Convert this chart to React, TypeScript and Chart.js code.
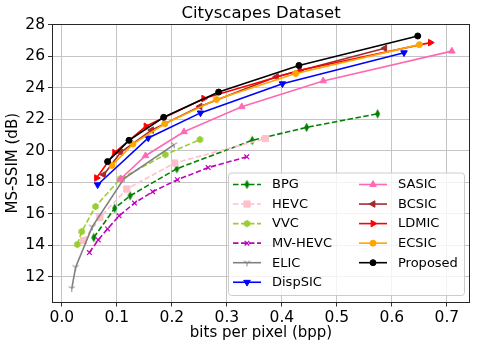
import React, { useEffect, useRef } from 'react';
import { Chart, registerables } from 'chart.js';
import { drawPoint } from 'chart.js/helpers';

Chart.register(...registerables);

const xTickValues = [0, 0.1, 0.2, 0.3, 0.4, 0.5, 0.6, 0.7];
const yTickValues = [12, 14, 16, 18, 20, 22, 24, 26, 28];

const bpgX = [0.058, 0.096, 0.124, 0.209, 0.346, 0.445, 0.574];
const bpgY = [14.5, 16.36, 17.15, 18.87, 20.67, 21.49, 22.35];
const hevcX = [0.039, 0.069, 0.118, 0.205, 0.37];
const hevcY = [14.31, 15.77, 17.58, 19.23, 20.78];
const vvcX = [0.028, 0.036, 0.061, 0.106, 0.188, 0.251];
const vvcY = [14.06, 14.88, 16.47, 18.22, 19.76, 20.72];
const mvhevcX = [0.05, 0.066, 0.083, 0.104, 0.132, 0.165, 0.21, 0.266, 0.336];
const mvhevcY = [13.55, 14.35, 15.05, 15.88, 16.69, 17.41, 18.17, 18.94, 19.62];
const elicX = [0.018, 0.025, 0.055, 0.113, 0.204];
const elicY = [11.28, 12.62, 15.18, 18.24, 20.4];
const dispsicX = [0.065, 0.157, 0.252, 0.401, 0.622];
const dispsicY = [17.85, 20.82, 22.41, 24.26, 26.23];
const sasicX = [0.107, 0.152, 0.222, 0.327, 0.475, 0.709];
const sasicY = [18.23, 19.69, 21.21, 22.8, 24.44, 26.33];
const bcsicX = [0.076, 0.107, 0.163, 0.251, 0.39, 0.587];
const bcsicY = [18.49, 19.91, 21.32, 22.82, 24.7, 26.51];
const ldmicX = [0.063, 0.096, 0.153, 0.258, 0.433, 0.67];
const ldmicY = [18.28, 19.89, 21.56, 23.32, 25.12, 26.87];
const ecsicX = [0.091, 0.129, 0.187, 0.281, 0.425, 0.65];
const ecsicY = [19.08, 20.43, 21.72, 23.26, 24.91, 26.74];
const proposedX = [0.083, 0.122, 0.185, 0.285, 0.431, 0.647];
const proposedY = [19.32, 20.67, 22.13, 23.73, 25.42, 27.29];

const FONT = "'DejaVu Sans', sans-serif";

function makeMarker(w: number, h: number, draw: (ctx: CanvasRenderingContext2D) => void) {
  const c = document.createElement('canvas');
  c.width = w;
  c.height = h;
  const ctx = c.getContext('2d')!;
  draw(ctx);
  return c;
}

function pts(xs: number[], ys: number[]) {
  return xs.map((x, i) => ({ x, y: ys[i] }));
}

export default function App() {
  const ref = useRef<HTMLCanvasElement>(null);

  useEffect(() => {
    const thinDiamond = makeMarker(7, 11, (ctx) => {
      ctx.fillStyle = '#008000';
      ctx.beginPath();
      ctx.moveTo(3.5, 0.8);
      ctx.lineTo(6.0, 5.5);
      ctx.lineTo(3.5, 10.2);
      ctx.lineTo(1.0, 5.5);
      ctx.closePath();
      ctx.fill();
    });
    const hexagon = makeMarker(9, 9, (ctx) => {
      ctx.fillStyle = '#9acd32';
      ctx.beginPath();
      for (let k = 0; k < 6; k++) {
        const a = -Math.PI / 2 + (k * Math.PI) / 3;
        const px = 4.5 + 3.7 * Math.cos(a);
        const py = 4.5 + 3.7 * Math.sin(a);
        if (k === 0) ctx.moveTo(px, py);
        else ctx.lineTo(px, py);
      }
      ctx.closePath();
      ctx.fill();
    });
    const triDown = makeMarker(9, 9, (ctx) => {
      ctx.strokeStyle = '#808080';
      ctx.lineWidth = 1;
      ctx.beginPath();
      const cx = 4.5, cy = 4.5, r = 3.6;
      ctx.moveTo(cx, cy);
      ctx.lineTo(cx, cy + r);
      ctx.moveTo(cx, cy);
      ctx.lineTo(cx - r * 0.866, cy - r * 0.5);
      ctx.moveTo(cx, cy);
      ctx.lineTo(cx + r * 0.866, cy - r * 0.5);
      ctx.stroke();
    });

    const dash = [5.5, 2.5];
    const series: any[] = [
      { label: 'BPG', xs: bpgX, ys: bpgY, color: '#008000', dash, style: thinDiamond, r: 5, rot: 0 },
      { label: 'HEVC', xs: hevcX, ys: hevcY, color: '#ffc0cb', dash, style: 'rect', r: 4.4, rot: 0 },
      { label: 'VVC', xs: vvcX, ys: vvcY, color: '#9acd32', dash, style: hexagon, r: 4, rot: 0 },
      { label: 'MV-HEVC', xs: mvhevcX, ys: mvhevcY, color: '#bf00bf', dash, style: 'crossRot', r: 3.3, rot: 0 },
      { label: 'ELIC', xs: elicX, ys: elicY, color: '#808080', dash: [], style: triDown, r: 4, rot: 0 },
      { label: 'DispSIC', xs: dispsicX, ys: dispsicY, color: '#0000ff', dash: [], style: 'triangle', r: 3.8, rot: 180 },
      { label: 'SASIC', xs: sasicX, ys: sasicY, color: '#ff69b4', dash: [], style: 'triangle', r: 3.8, rot: 0 },
      { label: 'BCSIC', xs: bcsicX, ys: bcsicY, color: '#a52a2a', dash: [], style: 'triangle', r: 3.8, rot: 270 },
      { label: 'LDMIC', xs: ldmicX, ys: ldmicY, color: '#ff0000', dash: [], style: 'triangle', r: 3.8, rot: 90 },
      { label: 'ECSIC', xs: ecsicX, ys: ecsicY, color: '#ffa500', dash: [], style: 'circle', r: 3, rot: 0 },
      { label: 'Proposed', xs: proposedX, ys: proposedY, color: '#000000', dash: [], style: 'circle', r: 3, rot: 0 },
    ];

    const datasets = series.map((s, i) => ({
      label: s.label,
      data: pts(s.xs, s.ys),
      borderColor: s.color,
      backgroundColor: s.color,
      borderWidth: 1.6,
      borderDash: s.dash,
      pointStyle: s.style,
      pointRadius: s.r,
      pointRotation: s.rot,
      pointBorderWidth: s.style === 'crossRot' ? 1.2 : 1,
      pointBackgroundColor: s.color,
      pointBorderColor: s.color,
      tension: 0,
      showLine: true,
      order: series.length - 1 - i,
    }));

    const framePlugin = {
      id: 'framePlugin',
      afterDatasetsDraw(chart: any) {
        const { ctx, chartArea: a } = chart;
        ctx.save();
        ctx.strokeStyle = '#262626';
        ctx.lineWidth = 1;
        ctx.strokeRect(Math.round(a.left) + 0.5, Math.round(a.top) + 0.5, Math.round(a.right - a.left) - 1, Math.round(a.bottom - a.top) - 1);
        ctx.fillStyle = '#000';
        ctx.font = `16.5px ${FONT}`;
        ctx.textAlign = 'center';
        ctx.textBaseline = 'middle';
        ctx.fillText('Cityscapes Dataset', (a.left + a.right) / 2, 14);

        const bx0 = a.right - 242;
        const by0 = a.bottom - 130;
        const bw = 236;
        const bh = 122.5;
        ctx.fillStyle = 'rgba(255,255,255,0.8)';
        ctx.strokeStyle = '#cccccc';
        ctx.lineWidth = 1;
        ctx.beginPath();
        if ((ctx as any).roundRect) (ctx as any).roundRect(bx0 + 0.5, by0 + 0.5, bw, bh, 3);
        else ctx.rect(bx0 + 0.5, by0 + 0.5, bw, bh);
        ctx.fill();
        ctx.stroke();

        const cols = [
          { lineX: bx0 + 5, textX: bx0 + 44 },
          { lineX: bx0 + 131, textX: bx0 + 170 },
        ];
        series.forEach((s, i) => {
          const col = i < 6 ? 0 : 1;
          const row = i < 6 ? i : i - 6;
          const y = by0 + 12 + row * 19.55;
          const c = cols[col];
          ctx.save();
          ctx.strokeStyle = s.color;
          ctx.lineWidth = 1.6;
          ctx.setLineDash(s.dash);
          ctx.beginPath();
          ctx.moveTo(c.lineX, y);
          ctx.lineTo(c.lineX + 28, y);
          ctx.stroke();
          ctx.setLineDash([]);
          ctx.fillStyle = s.color;
          ctx.strokeStyle = s.color;
          ctx.lineWidth = s.style === 'crossRot' ? 1.2 : 1;
          drawPoint(ctx, { pointStyle: s.style, rotation: s.rot, radius: s.r, borderWidth: ctx.lineWidth } as any, c.lineX + 14, y);
          ctx.restore();
          ctx.fillStyle = '#000';
          ctx.font = `13px ${FONT}`;
          ctx.textAlign = 'left';
          ctx.textBaseline = 'middle';
          ctx.fillText(s.label, c.textX, y + 0.5);
        });
        ctx.restore();
      },
    };

    const chart = new Chart(ref.current!, {
      type: 'line',
      data: { datasets },
      plugins: [framePlugin],
      options: {
        animation: false,
        responsive: false,
        maintainAspectRatio: false,
        layout: { padding: { top: 24, right: 8, left: 0, bottom: 0 } },
        plugins: {
          legend: { display: false },
          tooltip: { enabled: false },
          title: { display: false },
        },
        scales: {
          x: {
            type: 'linear',
            min: -0.018,
            max: 0.742,
            afterFit: (s: any) => { s.height = 46.5; },
            afterBuildTicks: (s: any) => { s.ticks = xTickValues.map((v) => ({ value: v })); },
            grid: { color: '#c4c4c4', lineWidth: 1, tickColor: '#333', tickLength: 4, drawTicks: true },
            border: { display: false },
            ticks: {
              color: '#000',
              padding: 2,
              maxRotation: 0,
              font: { family: FONT, size: 15.5 },
              callback: (v: any) => Number(v).toFixed(1),
            },
            title: {
              display: true,
              text: 'bits per pixel (bpp)',
              color: '#000',
              font: { family: FONT, size: 15 },
              padding: { top: 0, bottom: 7 },
            },
          },
          y: {
            type: 'linear',
            min: 10.38,
            max: 28.05,
            afterFit: (s: any) => { s.width = 52; },
            afterBuildTicks: (s: any) => { s.ticks = yTickValues.map((v) => ({ value: v })); },
            grid: { color: '#c4c4c4', lineWidth: 1, tickColor: '#333', tickLength: 4, drawTicks: true },
            border: { display: false },
            ticks: {
              color: '#000',
              padding: 3,
              font: { family: FONT, size: 15.5 },
              callback: (v: any) => String(v),
            },
            title: {
              display: true,
              text: 'MS-SSIM (dB)',
              color: '#000',
              font: { family: FONT, size: 15 },
              padding: { top: 4, bottom: 0 },
            },
          },
        },
      } as any,
    });
    return () => chart.destroy();
  }, []);

  return (
    <div style={{ position: 'fixed', left: 0, top: 0, width: 478, height: 349, background: '#fff' }}>
      <canvas ref={ref} width={478} height={349} style={{ display: 'block', width: 478, height: 349 }} />
    </div>
  );
}
